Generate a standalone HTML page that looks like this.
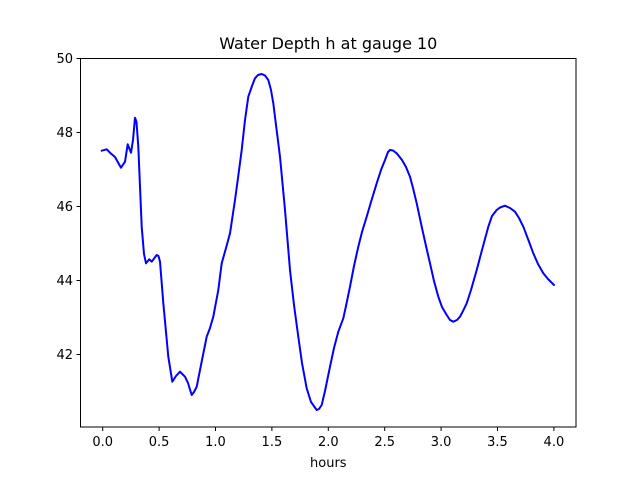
<!DOCTYPE html>
<html><head><meta charset="utf-8"><style>body{margin:0;background:#fff}svg{display:block}text{font-family:"DejaVu Sans","Liberation Sans",sans-serif;fill:#000}</style></head><body>
<svg width="640" height="480" viewBox="0 0 640 480" xmlns="http://www.w3.org/2000/svg">
<rect width="640" height="480" fill="#fff"/>
<polyline fill="none" stroke="#0000ff" stroke-width="2" stroke-linejoin="round" stroke-linecap="round" points="101.7,150.7 106.7,149.3 110,152.7 115,157 121,167.7 125,161.7 127.7,144.3 131,152.7 133,140 135,117.7 136.5,122 138.3,146.7 141.7,226.7 144,254 146,263.3 149.3,259.3 151.7,261.7 156.7,255 158.5,256 160,261.7 163.3,303 168.3,356.7 172.3,381.7 176,376 180,371.7 185,376.7 188,383 191.7,395 194,392 196.7,386.7 202,360 206.7,336.7 210,328 213.3,316.7 218.3,290 221.7,263.3 226,248 230,233.3 235,200 238,178 241.7,150 245,120 248.3,96.7 252,86 255,78.3 258,75 261.7,74 265,75.5 268.3,80 271,90 273.3,103.3 276,125 280,156.7 285,210 290,270 294,305 298.3,336.7 302,363 306.7,388.3 311,402 316.7,410 319,409 321.7,405 325,391 330,366.7 334,348 338.3,331.7 343.3,318.3 346,306 350,286.7 354,266 358.3,246.7 362,232 366.7,216.7 371,202 376.7,183.3 381,170 385,160 388,152 390,150 393,150.5 396.7,153.3 402,160 406,167 410,176.7 413,188 416.7,203.3 421.7,226.7 426,246 430,263.3 434,281 438.3,296.7 442,307 446.7,315 450,320 453.3,321.7 457,320 460,316.7 463,311 466.7,303.3 471,290 476.7,270 482,250 488.3,226.7 492,216 496.7,210 500,207.5 505,205.7 510,208 515,211.7 519,218 523.3,226.7 528,239 533.3,253.3 538,264 543.3,273.3 548,279 554,285"/>
<rect x="80.5" y="58.5" width="495.5" height="368.5" fill="none" stroke="#000" stroke-width="1"/>
<g stroke="#000" stroke-width="1">
<line x1="102.7" y1="427" x2="102.7" y2="431"/><line x1="159.1" y1="427" x2="159.1" y2="431"/><line x1="215.5" y1="427" x2="215.5" y2="431"/><line x1="271.9" y1="427" x2="271.9" y2="431"/><line x1="328.3" y1="427" x2="328.3" y2="431"/><line x1="384.7" y1="427" x2="384.7" y2="431"/><line x1="441.1" y1="427" x2="441.1" y2="431"/><line x1="497.5" y1="427" x2="497.5" y2="431"/><line x1="553.9" y1="427" x2="553.9" y2="431"/>
<line x1="76.5" y1="58.5" x2="80.5" y2="58.5"/><line x1="76.5" y1="132.5" x2="80.5" y2="132.5"/><line x1="76.5" y1="206.5" x2="80.5" y2="206.5"/><line x1="76.5" y1="280.5" x2="80.5" y2="280.5"/><line x1="76.5" y1="354.5" x2="80.5" y2="354.5"/>
</g>
<g font-size="13" text-anchor="middle">
<text x="102.7" y="446">0.0</text><text x="159.1" y="446">0.5</text><text x="215.5" y="446">1.0</text><text x="271.9" y="446">1.5</text><text x="328.3" y="446">2.0</text><text x="384.7" y="446">2.5</text><text x="441.1" y="446">3.0</text><text x="497.5" y="446">3.5</text><text x="553.9" y="446">4.0</text>
<text x="328.3" y="467">hours</text>
</g>
<g font-size="13" text-anchor="end">
<text x="73" y="63">50</text><text x="73" y="137">48</text><text x="73" y="211">46</text><text x="73" y="285">44</text><text x="73" y="359">42</text>
</g>
<text x="328.3" y="49" font-size="16" text-anchor="middle">Water Depth h at gauge 10</text>
</svg>
</body></html>
